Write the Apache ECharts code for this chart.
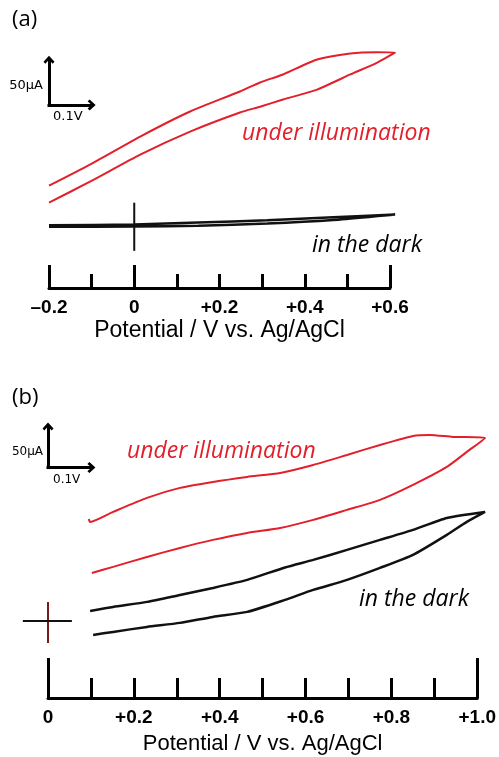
<!DOCTYPE html>
<html>
<head>
<meta charset="utf-8">
<script src="https://cdn.jsdelivr.net/npm/echarts@6/dist/echarts.min.js"></script>
<style>
  html, body { margin: 0; padding: 0; background: #fff; }
  #chart { width: 499px; height: 757px; }
</style>
</head>
<body>
<div id="chart"></div>
<script>
// 数据：电位 (V vs. Ag/AgCl) 与电流 (µA)
// (a) 光照下：下支（正扫）与上支（回扫）
const aRedLowV = [-0.2, -0.104, 0.014, 0.131, 0.248, 0.295, 0.349, 0.429, 0.507, 0.570, 0.612];
const aRedLowI = [25.6, 48.9, 78.9, 104.4, 125.6, 132, 140, 151, 167.8, 181, 192.2];
const aRedUpV = [0.612, 0.570, 0.507, 0.429, 0.349, 0.295, 0.248, 0.131, 0.014, -0.104, -0.2];
const aRedUpI = [192.2, 192.5, 191.1, 184.4, 167.8, 158.9, 148.9, 126.7, 98.9, 67.8, 44.4];
// (a) 暗态
const aDarkLowV = [-0.2, 0, 0.15, 0.312, 0.467, 0.612];
const aDarkLowI = [-1.2, -0.8, 0, 2.5, 6.5, 12.5];
const aDarkUpV = [0.612, 0.467, 0.312, 0.15, 0, -0.2];
const aDarkUpI = [12.5, 9.5, 6, 3.5, 1.5, 0.5];
// (a) 原点十字
const aCrossV = [0, 0];
const aCrossI = [25.6, -27.8];

// (b) 光照下
const bRedLowV = [0.101, 0.150, 0.228, 0.304, 0.380, 0.459, 0.535, 0.611, 0.689, 0.765, 0.841, 0.919, 0.965, 1.007];
const bRedLowI = [58.5, 65.9, 78, 89, 98.8, 107.3, 113.4, 123.2, 135.4, 147.6, 165.9, 187.8, 206.1, 223.2];
const bRedUpV = [1.007, 0.933, 0.880, 0.841, 0.765, 0.689, 0.611, 0.535, 0.459, 0.380, 0.304, 0.228, 0.150, 0.097, 0.094];
const bRedUpI = [223.2, 224.4, 226.8, 225.6, 214.6, 202.4, 190.2, 180.5, 175.6, 169.5, 162.2, 150, 132.9, 120.7, 124.4];
// (b) 暗态
const bDarkLowV = [0.104, 0.150, 0.228, 0.304, 0.380, 0.459, 0.546, 0.611, 0.689, 0.765, 0.841, 0.919, 0.965, 1.007];
const bDarkLowI = [-17.1, -13.4, -7.3, -2.4, 4.9, 11, 25.6, 37.8, 50, 64.6, 80.5, 104.9, 120.7, 132.9];
const bDarkUpV = [1.007, 0.919, 0.841, 0.765, 0.689, 0.611, 0.546, 0.459, 0.380, 0.304, 0.228, 0.150, 0.097];
const bDarkUpI = [132.9, 125.6, 111, 98.8, 86.6, 74.4, 65.2, 50, 40.2, 31.7, 23.2, 17.1, 12.2];
// (b) 原点十字
const bCrossVertV = [0, 0];
const bCrossVertI = [23.2, -26.8];
const bCrossHorzV = [-0.058, 0.055];
const bCrossHorzI = [0, 0];

// 刻度
const aTickLabels = [-0.2, 0, 0.2, 0.4, 0.6];
const aLongTicks = [-0.2, 0, 0.6];
const bTickLabels = [0, 0.2, 0.4, 0.6, 0.8, 1.0];
const bLongTicks = [0, 1.0];

// 比例尺：0.1 V 与 50 µA
const scaleV = 0.1;
const scaleI = 50;
const aScaleOrigin = [-0.2, 134];
const bScaleOrigin = [0, 187];

const axisTitle = 'Potential / V vs. Ag/AgCl';
const red = '#e2202b';
const black = '#111';

function pairs(xs, ys) {
    return xs.map((x, i) => [x, ys[i]]);
}
function loop(lowV, lowI, upV, upI) {
    return pairs(lowV, lowI).concat(pairs(upV, upI));
}
function fmtTick(v) {
    if (Math.abs(v) < 1e-9) return '0';
    return (v < 0 ? '\u2013' : '+') + Math.abs(v).toFixed(1);
}

// 比例尺箭头（开口箭头）
const chevron = 'path://M6,0 L12,6 L10,8 L6,4 L2,8 L0,6 Z';
function scaleBar(origin) {
    const [x0, y0] = origin;
    return {
        silent: true,
        symbol: ['none', chevron],
        symbolSize: [11, 8],
        label: { show: false },
        lineStyle: { color: '#000', width: 3, type: 'solid', cap: 'square' },
        data: [
            [{ coord: [x0, y0] }, { coord: [x0, y0 + scaleI] }],
            [{ coord: [x0, y0] }, { coord: [x0 + scaleV, y0] }]
        ]
    };
}

const labelFont = {
    fontSize: 19, fontWeight: 'bold', color: '#000',
    fontFamily: '"Liberation Sans", Arial, sans-serif'
};
const nameFont = {
    fontSize: 23, color: '#000',
    fontFamily: '"Liberation Sans", Arial, sans-serif'
};

// 可见的电位轴（短刻度 + 标签）
function mainAxis(grid, min, max, tickLen, labels, gap, nameSize) {
    return {
        gridIndex: grid, type: 'value', min: min, max: max, interval: 0.1,
        position: 'bottom',
        axisLine: { onZero: false, lineStyle: { color: '#000', width: 3 } },
        axisTick: { inside: true, length: tickLen, lineStyle: { color: '#000', width: 3 } },
        axisLabel: Object.assign({ customValues: labels, formatter: fmtTick, margin: 10 }, labelFont),
        splitLine: { show: false },
        name: axisTitle, nameLocation: 'middle', nameGap: gap,
        nameTextStyle: Object.assign({}, nameFont, { fontSize: nameSize })
    };
}
// 长刻度
function longTickAxis(grid, min, max, tickLen, ticks) {
    return {
        gridIndex: grid, type: 'value', min: min, max: max,
        position: 'bottom',
        axisLine: { show: false, onZero: false },
        axisTick: { show: true, inside: true, length: tickLen, customValues: ticks,
                    lineStyle: { color: '#000', width: 3 } },
        axisLabel: { show: false },
        splitLine: { show: false }
    };
}
function hiddenX(grid, min, max) {
    return { gridIndex: grid, type: 'value', min: min, max: max, show: false };
}
function hiddenY(grid, min, max) {
    return { gridIndex: grid, type: 'value', min: min, max: max, show: false };
}

function lineSeries(xi, yi, data, color, width) {
    return {
        type: 'line', xAxisIndex: xi, yAxisIndex: yi, data: data,
        showSymbol: false, symbol: 'none', smooth: 0.2, clip: false,
        lineStyle: { color: color, width: width }
    };
}

// 像素布局：(a) 0.1 V = 42.625 px，(b) 0.1 V = 43.4 px
// 数据网格比坐标轴网格略宽，以便曲线端点越过轴端
const aStep = 341 / 8;
const bStep = 434 / 10;

const chart = echarts.init(document.getElementById('chart'));

const annoFont = '"Open Sans", Lato, sans-serif';
const scaleFont = '"DejaVu Sans", sans-serif';

chart.setOption({
    animation: false,
    backgroundColor: '#fff',
    grid: [
        { left: 49, width: 341, top: 40, height: 248 },
        { left: 49 - aStep, width: 10 * aStep, top: 40, height: 248 },
        { left: 48, width: 434, top: 420, height: 278 },
        { left: 48 - 0.8 * bStep, width: 11 * bStep, top: 420, height: 278 }
    ],
    xAxis: [
        mainAxis(0, -0.2, 0.6, 14, aTickLabels, 31, 23),
        longTickAxis(0, -0.2, 0.6, 23, aLongTicks),
        hiddenX(1, -0.3, 0.7),
        mainAxis(2, 0, 1.0, 20, bTickLabels, 35, 22),
        longTickAxis(2, 0, 1.0, 40, bLongTicks),
        hiddenX(3, -0.08, 1.02)
    ],
    yAxis: [
        hiddenY(0, -69, 206),
        hiddenY(1, -69, 206),
        hiddenY(2, -94, 245),
        hiddenY(3, -94, 245)
    ],
    series: [
        lineSeries(2, 1, loop(aRedLowV, aRedLowI, aRedUpV, aRedUpI), red, 2),
        lineSeries(2, 1, loop(aDarkLowV, aDarkLowI, aDarkUpV, aDarkUpI), black, 2.5),
        Object.assign(lineSeries(2, 1, pairs(aCrossV, aCrossI), black, 2), {
            smooth: false, markLine: scaleBar(aScaleOrigin)
        }),
        lineSeries(5, 3, loop(bRedLowV, bRedLowI, bRedUpV, bRedUpI), red, 2),
        lineSeries(5, 3, loop(bDarkLowV, bDarkLowI, bDarkUpV, bDarkUpI), black, 2.5),
        Object.assign(lineSeries(5, 3, pairs(bCrossVertV, bCrossVertI), '#7a1a1a', 2), {
            smooth: false, markLine: scaleBar(bScaleOrigin)
        }),
        Object.assign(lineSeries(5, 3, pairs(bCrossHorzV, bCrossHorzI), black, 2), { smooth: false })
    ],
    graphic: [
        { type: 'text', left: 12, top: 9, style: { text: '(a)', font: '22px ' + annoFont, fill: '#000' } },
        { type: 'text', left: 12, top: 387, style: { text: '(b)', font: '22px ' + annoFont, fill: '#000' } },
        { type: 'text', x: 43, y: 86, style: { text: '50\u00b5A', font: '13px ' + scaleFont, fill: '#000', align: 'right', verticalAlign: 'middle' } },
        { type: 'text', x: 53, y: 117, style: { text: '0.1V', font: '13px ' + scaleFont, fill: '#000', align: 'left', verticalAlign: 'middle' } },
        { type: 'text', x: 43, y: 452, style: { text: '50\u00b5A', font: '12px ' + scaleFont, fill: '#000', align: 'right', verticalAlign: 'middle' } },
        { type: 'text', x: 53, y: 480, style: { text: '0.1V', font: '12px ' + scaleFont, fill: '#000', align: 'left', verticalAlign: 'middle' } },
        { type: 'text', x: 242, y: 133, style: { text: 'under illumination', font: 'italic 23px ' + annoFont, fill: red, align: 'left', verticalAlign: 'middle' } },
        { type: 'text', x: 312, y: 245, style: { text: 'in the dark', font: 'italic 23px ' + annoFont, fill: '#000', align: 'left', verticalAlign: 'middle' } },
        { type: 'text', x: 127, y: 451, style: { text: 'under illumination', font: 'italic 23px ' + annoFont, fill: red, align: 'left', verticalAlign: 'middle' } },
        { type: 'text', x: 359, y: 599, style: { text: 'in the dark', font: 'italic 23px ' + annoFont, fill: '#000', align: 'left', verticalAlign: 'middle' } }
    ]
});
</script>
</body>
</html>
